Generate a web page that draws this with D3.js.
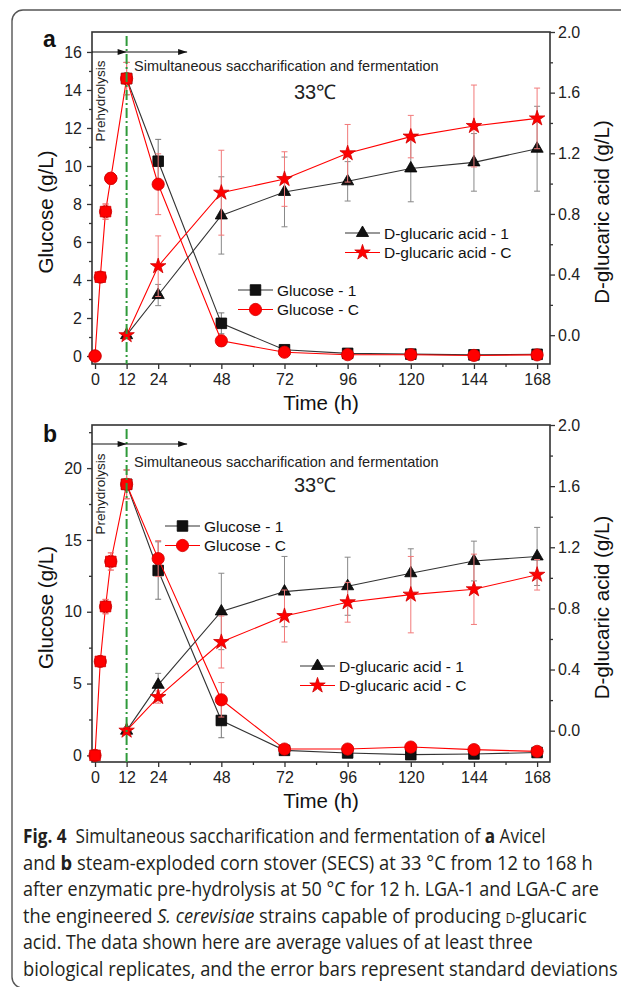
<!DOCTYPE html>
<html><head><meta charset="utf-8">
<script src="https://cdn.jsdelivr.net/npm/d3@7"></script>
<style>body{margin:0;background:#fff} svg{display:block} text{font-family:"Liberation Sans",Arial,sans-serif}</style>
</head><body>
<svg id="fig" width="621" height="987"></svg>
<script>
// ---------------- DATA ----------------
const hoursPre = [0, 2, 4, 6, 12];
const hoursSSF = [12, 24, 48, 72, 96, 120, 144, 168];
const xMajorTicks = [0, 12, 24, 48, 72, 96, 120, 144, 168];
const xMinorTicks = [36, 60, 84, 108, 132, 156];

// panel a (Avicel)
const aPreGlucose    = [0, 4.15, 7.6, 9.35, 14.6];
const aPreGlucoseErr = [0.05, 0.2, 0.4, 0.3, 0.85];
const aPreShapes     = ["circle", "square", "square", "circle", "square"];
const aGlucose1      = [14.6, 10.25, 1.72, 0.33, 0.14, 0.1, 0.06, 0.09];
const aGlucose1Err   = [0.85, 1.15, 0.55, 0.1, 0.05, 0.05, 0.03, 0.03];
const aGlucoseC      = [14.6, 9.04, 0.8, 0.2, 0.07, 0.07, 0.03, 0.06];
const aGlucoseCErr   = [0.85, 1.6, 0.3, 0.1, 0.05, 0.05, 0.02, 0.03];
const aGlucaric1     = [0.0, 0.265, 0.79, 0.945, 1.015, 1.10, 1.14, 1.23];
const aGlucaric1Err  = [0.02, 0.07, 0.255, 0.23, 0.13, 0.22, 0.19, 0.28];
const aGlucaricC     = [0.0, 0.455, 0.94, 1.03, 1.20, 1.31, 1.38, 1.43];
const aGlucaricCErr  = [0.02, 0.2, 0.28, 0.18, 0.19, 0.14, 0.27, 0.2];
const aLeftTicks  = [0, 2, 4, 6, 8, 10, 12, 14, 16];
const aLeftMinor  = [1, 3, 5, 7, 9, 11, 13, 15];

// panel b (SECS)
const bPreGlucose    = [0, 6.54, 10.36, 13.5, 18.87];
const bPreGlucoseErr = [0.1, 0.3, 0.5, 0.6, 1.0];
const bPreShapes     = ["square", "square", "square", "square", "square"];
const bGlucose1      = [18.87, 12.87, 2.43, 0.35, 0.17, 0.05, 0.1, 0.2];
const bGlucose1Err   = [1.0, 2.0, 1.2, 0.1, 0.05, 0.05, 0.05, 0.05];
const bGlucoseC      = [18.87, 13.7, 3.87, 0.44, 0.44, 0.58, 0.4, 0.28];
const bGlucoseCErr   = [1.0, 1.25, 1.2, 0.1, 0.1, 0.1, 0.1, 0.1];
const bGlucaric1     = [0.0, 0.30, 0.78, 0.91, 0.945, 1.03, 1.11, 1.14];
const bGlucaric1Err  = [0.02, 0.075, 0.25, 0.23, 0.19, 0.16, 0.13, 0.19];
const bGlucaricC     = [0.0, 0.22, 0.58, 0.75, 0.84, 0.89, 0.925, 1.02];
const bGlucaricCErr  = [0.02, 0.04, 0.17, 0.17, 0.13, 0.25, 0.23, 0.1];
const bLeftTicks  = [0, 5, 10, 15, 20];
const bLeftMinor  = [2.5, 7.5, 12.5, 17.5, 22.5];

const rightTicks = [0.0, 0.4, 0.8, 1.2, 1.6, 2.0];
const rightMinor = [0.2, 0.6, 1.0, 1.4, 1.8];

const seriesNames = ["Glucose - 1", "Glucose - C", "D-glucaric acid - 1", "D-glucaric acid - C"];

// caption
const captionLines = [
  [["Fig. 4", "b"], ["  Simultaneous saccharification and fermentation of ", ""], ["a", "b"], [" Avicel", ""]],
  [["and ", ""], ["b", "b"], [" steam-exploded corn stover (SECS) at 33 °C from 12 to 168 h", ""]],
  [["after enzymatic pre-hydrolysis at 50 °C for 12 h. LGA-1 and LGA-C are", ""]],
  [["the engineered ", ""], ["S. cerevisiae", "i"], [" strains capable of producing ", ""], ["D", "sc"], ["-glucaric", ""]],
  [["acid. The data shown here are average values of at least three", ""]],
  [["biological replicates, and the error bars represent standard deviations", ""]]
];
const captionRight = [546, 593, 599, 587, 533, 618];

// ---------------- DRAW ----------------
const svg = d3.select("#fig");
svg.append("rect").attr("width", 621).attr("height", 987).attr("fill", "#fff");
svg.append("rect").attr("x", 12).attr("y", 10).attr("width", 640).attr("height", 978)
  .attr("rx", 11).attr("fill", "none").attr("stroke", "#555").attr("stroke-width", 1.4);

const BLACK = "#111", RED = "#ff0000", RED_EDGE = "#d00000";
const symType = {square: d3.symbolSquare, circle: d3.symbolCircle, triangle: d3.symbolTriangle, star: d3.symbolStar};
const symSize = {square: 112, circle: 118, triangle: 64, star: 74};
function symbolPath(shape) { return d3.symbol().type(symType[shape]).size(symSize[shape])(); }

function drawPanel(p) {
  const g = svg.append("g");
  const x = d3.scaleLinear().domain([-1.15, 172.9]).range([p.left, p.right]);
  const yL = d3.scaleLinear().domain(p.yLeftDomain).range([p.bottom, p.top]);
  const yR = d3.scaleLinear().domain(p.yRightDomain).range([p.bottom, p.top]);

  // axes
  const axStyle = sel => {
    sel.select(".domain").remove();
    sel.selectAll("line").attr("stroke", "#333").attr("stroke-width", 1.3);
    sel.selectAll("text").attr("font-size", 16).attr("fill", "#222")
      .attr("font-family", '"Liberation Sans", Arial, sans-serif');
  };
  g.append("g").attr("transform", `translate(${p.left},0)`)
    .call(d3.axisLeft(yL).tickValues(p.leftTicks).tickSize(5).tickPadding(5).tickFormat(d3.format("d"))).call(axStyle);
  g.append("g").attr("transform", `translate(${p.left},0)`)
    .call(d3.axisLeft(yL).tickValues(p.leftMinor).tickSize(3).tickFormat("")).call(axStyle);
  g.append("g").attr("transform", `translate(${p.right},0)`)
    .call(d3.axisRight(yR).tickValues(rightTicks).tickSize(5).tickPadding(3).tickFormat(d3.format(".1f"))).call(axStyle);
  g.append("g").attr("transform", `translate(${p.right},0)`)
    .call(d3.axisRight(yR).tickValues(rightMinor).tickSize(3).tickFormat("")).call(axStyle);
  g.append("g").attr("transform", `translate(0,${p.bottom})`)
    .call(d3.axisBottom(x).tickValues(xMajorTicks).tickSize(5).tickPadding(5).tickFormat(d3.format("d"))).call(axStyle);
  g.append("g").attr("transform", `translate(0,${p.bottom})`)
    .call(d3.axisBottom(x).tickValues(xMinorTicks).tickSize(3).tickFormat("")).call(axStyle);
  g.append("rect").attr("x", p.left).attr("y", p.top).attr("width", p.right - p.left).attr("height", p.bottom - p.top)
    .attr("fill", "none").attr("stroke", "#333").attr("stroke-width", 1.6);

  // series
  function series(times, vals, errs, yScale, lineColor, errColor, fill, edge, shape, shapes) {
    const pts = times.map((t, i) => ({t, v: vals[i], e: errs[i], s: shapes ? shapes[i] : shape}));
    const eg = g.append("g").attr("stroke", errColor).attr("stroke-width", 1);
    pts.forEach(d => {
      const xx = x(d.t), y1 = yScale(d.v - d.e), y2 = yScale(d.v + d.e);
      eg.append("line").attr("x1", xx).attr("x2", xx).attr("y1", y1).attr("y2", y2);
      eg.append("line").attr("x1", xx - 3).attr("x2", xx + 3).attr("y1", y1).attr("y2", y1);
      eg.append("line").attr("x1", xx - 3).attr("x2", xx + 3).attr("y1", y2).attr("y2", y2);
    });
    if (lineColor) {
      g.append("path").datum(pts).attr("fill", "none").attr("stroke", lineColor).attr("stroke-width", 1.1)
        .attr("d", d3.line().x(d => x(d.t)).y(d => yScale(d.v)));
    }
    g.append("g").selectAll("path").data(pts).join("path")
      .attr("transform", d => `translate(${x(d.t)},${yScale(d.v)})`)
      .attr("d", d => symbolPath(d.s)).attr("fill", fill).attr("stroke", edge).attr("stroke-width", 0.8);
  }
  series(hoursSSF, p.glucose1, p.glucose1Err, yL, "#333", "#777", BLACK, "#000", "square");
  series(hoursPre.concat(hoursSSF.slice(1)), p.pre.concat(p.glucoseC.slice(1)), p.preErr.concat(p.glucoseCErr.slice(1)),
         yL, RED, "#f27a7a", RED, RED_EDGE, "circle", null);
  series(hoursSSF, p.glucaric1, p.glucaric1Err, yR, "#333", "#888", BLACK, "#000", "triangle");
  series(hoursSSF, p.glucaricC, p.glucaricCErr, yR, RED, "#f27a7a", RED, RED_EDGE, "star");
  series(hoursPre, p.pre, p.preErr, yL, null, "#f27a7a", RED, RED_EDGE, null, p.preShapes);

  // green dash-dot line at 12 h
  g.append("line").attr("x1", x(12)).attr("x2", x(12)).attr("y1", p.top + 4).attr("y2", p.bottom)
    .attr("stroke", "#2f9a3a").attr("stroke-width", 2).attr("stroke-dasharray", "10,3,2,3");

  // arrow
  const ay = p.top + p.arrowOffset;
  g.append("line").attr("x1", p.left).attr("x2", x(35)).attr("y1", ay).attr("y2", ay)
    .attr("stroke", "#111").attr("stroke-width", 1.2);
  [x(12), x(35)].forEach(tx => {
    g.append("path").attr("d", `M${tx},${ay} L${tx - 9},${ay - 3} L${tx - 9},${ay + 3} Z`).attr("fill", "#111");
  });

  // annotations
  g.append("text").attr("transform", `translate(${p.left + 8},${p.preY}) rotate(-90)`)
    .attr("text-anchor", "middle").attr("dominant-baseline", "central").attr("font-size", 13.5).attr("fill", "#222")
    .text("Prehydrolysis");
  g.append("text").attr("x", 134).attr("y", p.top + p.ssfOffset).attr("font-size", 14.5).attr("fill", "#222")
    .text("Simultaneous saccharification and fermentation");
  g.append("text").attr("x", 294).attr("y", p.top + p.tempOffset).attr("font-size", 20).attr("fill", "#222")
    .text("33℃");
  g.append("text").attr("x", 43).attr("y", p.labelY).attr("font-size", 23).attr("font-weight", "bold").attr("fill", "#111")
    .text(p.label);

  // axis titles
  const titleY = (p.top + p.bottom) / 2 + 14;
  g.append("text").attr("transform", `translate(45,${titleY}) rotate(-90)`).attr("text-anchor", "middle")
    .attr("dominant-baseline", "central").attr("font-size", 20.5).attr("fill", "#111").text("Glucose (g/L)");
  g.append("text").attr("transform", `translate(601,${titleY}) rotate(-90)`).attr("text-anchor", "middle")
    .attr("dominant-baseline", "central").attr("font-size", 20.5).attr("fill", "#111").text("D-glucaric acid (g/L)");
  g.append("text").attr("x", (p.left + p.right) / 2).attr("y", p.bottom + 38).attr("text-anchor", "middle")
    .attr("dominant-baseline", "central").attr("font-size", 20.5).attr("fill", "#111").text("Time (h)");

  // legends
  const leg = [
    {name: seriesNames[0], shape: "square", fill: BLACK, edge: "#000", line: "#333", lx: p.legG[0], ly: p.legG[1]},
    {name: seriesNames[1], shape: "circle", fill: RED, edge: RED_EDGE, line: RED, lx: p.legG[0], ly: p.legG[1] + 19.5},
    {name: seriesNames[2], shape: "triangle", fill: BLACK, edge: "#000", line: "#333", lx: p.legD[0], ly: p.legD[1]},
    {name: seriesNames[3], shape: "star", fill: RED, edge: RED_EDGE, line: RED, lx: p.legD[0], ly: p.legD[1] + 19.5}
  ];
  leg.forEach(l => {
    g.append("line").attr("x1", l.lx).attr("x2", l.lx + 35).attr("y1", l.ly).attr("y2", l.ly)
      .attr("stroke", l.line).attr("stroke-width", 1.1);
    g.append("path").attr("transform", `translate(${l.lx + 17.5},${l.ly})`).attr("d", symbolPath(l.shape))
      .attr("fill", l.fill).attr("stroke", l.edge).attr("stroke-width", 0.8);
    g.append("text").attr("x", l.lx + 39).attr("y", l.ly).attr("dominant-baseline", "central")
      .attr("font-size", 15.5).attr("fill", "#111").text(l.name);
  });
}

drawPanel({
  label: "a", labelY: 47, left: 92, right: 550, top: 32, bottom: 364,
  yLeftDomain: [-0.42, 17.05], yRightDomain: [-0.19, 2.0],
  leftTicks: aLeftTicks, leftMinor: aLeftMinor,
  pre: aPreGlucose, preErr: aPreGlucoseErr, preShapes: aPreShapes,
  glucose1: aGlucose1, glucose1Err: aGlucose1Err, glucoseC: aGlucoseC, glucoseCErr: aGlucoseCErr,
  glucaric1: aGlucaric1, glucaric1Err: aGlucaric1Err, glucaricC: aGlucaricC, glucaricCErr: aGlucaricCErr,
  arrowOffset: 20, preY: 101, ssfOffset: 39, tempOffset: 67,
  legG: [238, 290], legD: [345, 233]
});
drawPanel({
  label: "b", labelY: 442, left: 92, right: 550, top: 425, bottom: 762,
  yLeftDomain: [-0.46, 23.0], yRightDomain: [-0.205, 2.0],
  leftTicks: bLeftTicks, leftMinor: bLeftMinor,
  pre: bPreGlucose, preErr: bPreGlucoseErr, preShapes: bPreShapes,
  glucose1: bGlucose1, glucose1Err: bGlucose1Err, glucoseC: bGlucoseC, glucoseCErr: bGlucoseCErr,
  glucaric1: bGlucaric1, glucaric1Err: bGlucaric1Err, glucaricC: bGlucaricC, glucaricCErr: bGlucaricCErr,
  arrowOffset: 19, preY: 494, ssfOffset: 42, tempOffset: 67,
  legG: [165, 526], legD: [300, 666]
});

// caption
const capBase = [843, 869.6, 896.2, 922.8, 949.4, 976];
captionLines.forEach((segs, i) => {
  const t = svg.append("text").attr("font-size", 19.5).attr("fill", "#231f20")
    .style("font-family", '"Open Sans", "Noto Sans", sans-serif').style("white-space", "pre");
  segs.forEach(([s, st]) => {
    const ts = t.append("tspan").text(s);
    if (st === "b") ts.attr("font-weight", "bold");
    if (st === "i") ts.attr("font-style", "italic");
    if (st === "sc") ts.attr("font-size", 14.5);
  });
  const w = t.node().getComputedTextLength();
  const k = (captionRight[i] - 23) / w;
  t.attr("transform", `translate(23,${capBase[i]}) scale(${k},1)`);
});
</script>
</body></html>
